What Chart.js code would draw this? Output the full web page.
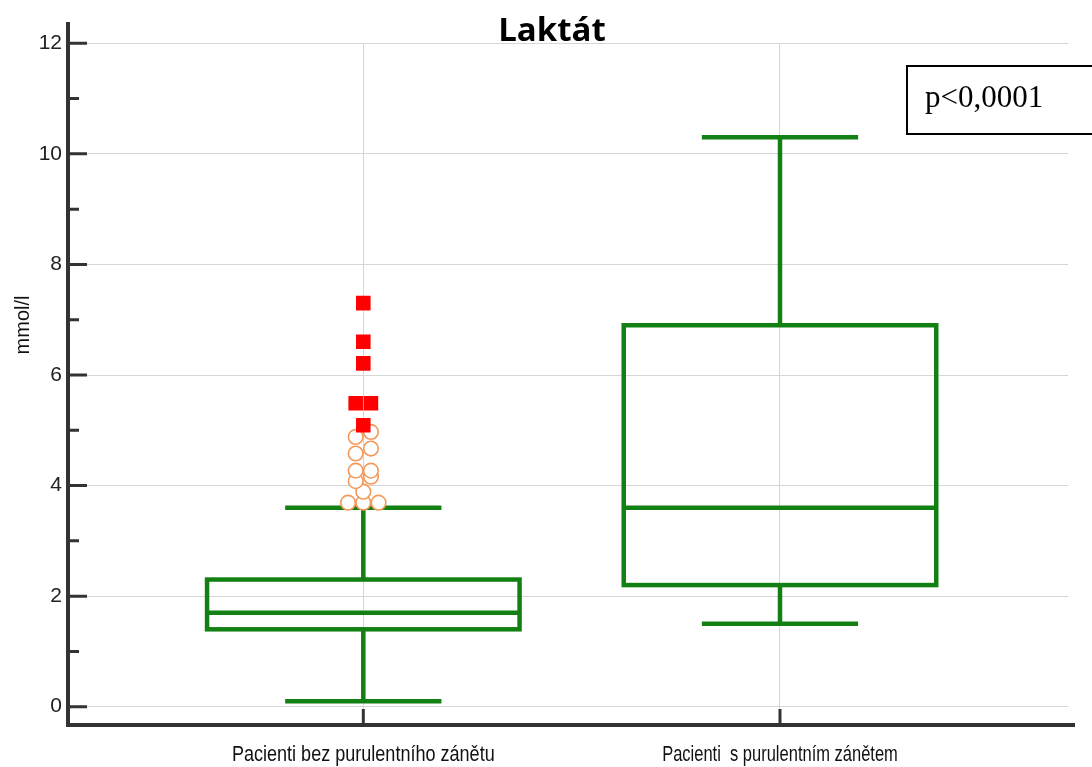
<!DOCTYPE html>
<html>
<head>
<meta charset="utf-8">
<script src="https://cdn.jsdelivr.net/npm/chart.js@4.4.1/dist/chart.umd.min.js"></script>
<style>
html,body{margin:0;padding:0;background:#fff;}
#wrap{width:1092px;height:767px;position:relative;}
</style>
</head>
<body>
<div id="wrap"><canvas id="c" width="1092" height="767"></canvas></div>
<script>
// ---- data ----
const categories = ['Pacienti bez purulentního zánětu', 'Pacienti  s purulentním zánětem'];
const whiskerLow = [0.1, 1.5];
const q1 = [1.4, 2.2];
const median = [1.7, 3.6];
const q3 = [2.3, 6.9];
const whiskerHigh = [3.6, 10.3];
// outside values (group 1)
const outsideValues = [3.69, 3.69, 3.69, 3.89, 4.08, 4.16, 4.27, 4.27, 4.58, 4.67, 4.88, 4.97];
const outsideSlots  = [-2, 0, 2, 0, -1, 1, -1, 1, -1, 1, -1, 1];
// far-out values (group 1)
const farValues = [7.30, 6.60, 6.21, 5.49, 5.49, 5.09];
const farSlots  = [0, 0, 0, -1, 1, 0];
const yTicks = [0, 2, 4, 6, 8, 10, 12];
const title = 'Laktát';
const yTitle = 'mmol/l';
const pText = 'p<0,0001';

// ---- style ----
const GREEN = '#128012';
const AXIS = '#333333';
const SLOT = 0.0183;
const BOX_W = 0.75;
const LABEL_SQUEEZE = [0.82, 0.75];

const outsidePoints = outsideValues.map((v, i) => ({x: 1 + outsideSlots[i] * SLOT, y: v}));
const farPoints = farValues.map((v, i) => ({x: 1 + farSlots[i] * SLOT, y: v}));

const boxPlugin = {
  id: 'boxes',
  beforeDatasetsDraw(chart) {
    const {ctx, scales: {x, y}} = chart;
    ctx.save();
    ctx.strokeStyle = GREEN;
    ctx.lineWidth = 4.5;
    ctx.lineCap = 'butt';
    categories.forEach((c, i) => {
      const cx = x.getPixelForValue(i + 1);
      const half = x.getPixelForValue(i + 1 + BOX_W / 2) - cx;
      const capHalf = half / 2;
      const pLo = y.getPixelForValue(whiskerLow[i]);
      const pQ1 = y.getPixelForValue(q1[i]);
      const pMed = y.getPixelForValue(median[i]);
      const pQ3 = y.getPixelForValue(q3[i]);
      const pHi = y.getPixelForValue(whiskerHigh[i]);
      ctx.beginPath();
      ctx.moveTo(cx, pQ3); ctx.lineTo(cx, pHi);
      ctx.moveTo(cx, pQ1); ctx.lineTo(cx, pLo);
      ctx.moveTo(cx - capHalf, pHi); ctx.lineTo(cx + capHalf, pHi);
      ctx.moveTo(cx - capHalf, pLo); ctx.lineTo(cx + capHalf, pLo);
      ctx.moveTo(cx - half, pMed); ctx.lineTo(cx + half, pMed);
      ctx.stroke();
      ctx.strokeRect(cx - half, pQ3, 2 * half, pQ1 - pQ3);
    });
    ctx.restore();
  }
};

const decoPlugin = {
  id: 'deco',
  afterDraw(chart) {
    const {ctx, chartArea: a, scales: {x, y}} = chart;
    ctx.save();
    ctx.strokeStyle = AXIS;
    ctx.lineWidth = 4;
    ctx.beginPath();
    // y axis line (extends above the top gridline)
    ctx.moveTo(a.left, 22);
    ctx.lineTo(a.left, a.bottom + 2);
    // x axis line
    ctx.moveTo(a.left - 2, a.bottom);
    ctx.lineTo(1075, a.bottom);
    ctx.stroke();
    // x ticks (inside)
    ctx.lineWidth = 3;
    ctx.beginPath();
    categories.forEach((c, i) => {
      const px = x.getPixelForValue(i + 1);
      ctx.moveTo(px, a.bottom);
      ctx.lineTo(px, a.bottom - 16);
    });
    ctx.stroke();
    // y ticks (inside), major and minor
    ctx.beginPath();
    for (let v = 0; v <= 12; v++) {
      const py = y.getPixelForValue(v);
      ctx.moveTo(a.left, py);
      ctx.lineTo(a.left + (v % 2 === 0 ? 19 : 11), py);
    }
    ctx.stroke();
    // x category labels (narrow)
    ctx.fillStyle = '#111';
    ctx.font = '22px "Liberation Sans", Arial, sans-serif';
    ctx.textAlign = 'center';
    ctx.textBaseline = 'alphabetic';
    categories.forEach((c, i) => {
      const px = x.getPixelForValue(i + 1);
      ctx.save();
      ctx.translate(px, 761);
      ctx.scale(LABEL_SQUEEZE[i], 1);
      ctx.fillText(c, 0, 0);
      ctx.restore();
    });
    // y title
    ctx.font = '20px "Liberation Sans", Arial, sans-serif';
    ctx.textAlign = 'center';
    ctx.textBaseline = 'middle';
    ctx.translate(23, 325);
    ctx.rotate(-Math.PI / 2);
    ctx.fillText(yTitle, 0, 0);
    ctx.restore();
    // p-value box
    ctx.save();
    ctx.strokeStyle = '#000';
    ctx.lineWidth = 2;
    ctx.strokeRect(907, 66, 200, 68);
    ctx.fillStyle = '#000';
    ctx.font = '31px "Liberation Serif", "Times New Roman", serif';
    ctx.textAlign = 'left';
    ctx.textBaseline = 'alphabetic';
    ctx.fillText(pText, 925, 107);
    ctx.restore();
  }
};

new Chart(document.getElementById('c'), {
  type: 'scatter',
  data: {
    datasets: [
      {
        label: 'far',
        data: farPoints,
        pointStyle: 'rect',
        radius: 10.3,
        hoverRadius: 10.3,
        backgroundColor: '#ff0000',
        borderColor: '#ff0000',
        borderWidth: 0
      },
      {
        label: 'outside',
        data: outsidePoints,
        pointStyle: 'circle',
        radius: 7.3,
        hoverRadius: 7.3,
        backgroundColor: '#ffffff',
        borderColor: '#f39a5b',
        borderWidth: 1.6
      }
    ]
  },
  options: {
    responsive: false,
    animation: false,
    events: [],
    layout: {padding: {left: 36, right: 24, top: 0, bottom: 0}},
    plugins: {
      legend: {display: false},
      tooltip: {enabled: false},
      title: {
        display: true,
        text: title,
        color: '#000',
        font: {family: '"Open Sans", Lato, sans-serif', size: 33, weight: 'bold', lineHeight: 1},
        padding: {top: 15, bottom: -4.7}
      }
    },
    scales: {
      x: {
        type: 'linear',
        min: 0.2913,
        max: 2.6912,
        afterBuildTicks: (s) => { s.ticks = categories.map((c, i) => ({value: i + 1})); },
        afterFit: (s) => { s.height = 42; },
        grid: {color: '#d6d6d6', lineWidth: 1, drawTicks: false},
        border: {display: false},
        ticks: {display: false}
      },
      y: {
        type: 'linear',
        min: -0.331,
        max: 12,
        afterBuildTicks: (s) => { s.ticks = yTicks.map(v => ({value: v})); },
        afterFit: (s) => { s.width = 32; },
        grid: {color: '#d6d6d6', lineWidth: 1, drawTicks: false},
        border: {display: false},
        ticks: {
          padding: 6,
          color: '#222',
          font: {family: '"Liberation Sans", Arial, sans-serif', size: 21},
          callback: (v) => String(v)
        }
      }
    }
  },
  plugins: [boxPlugin, decoPlugin]
});
</script>
</body>
</html>
